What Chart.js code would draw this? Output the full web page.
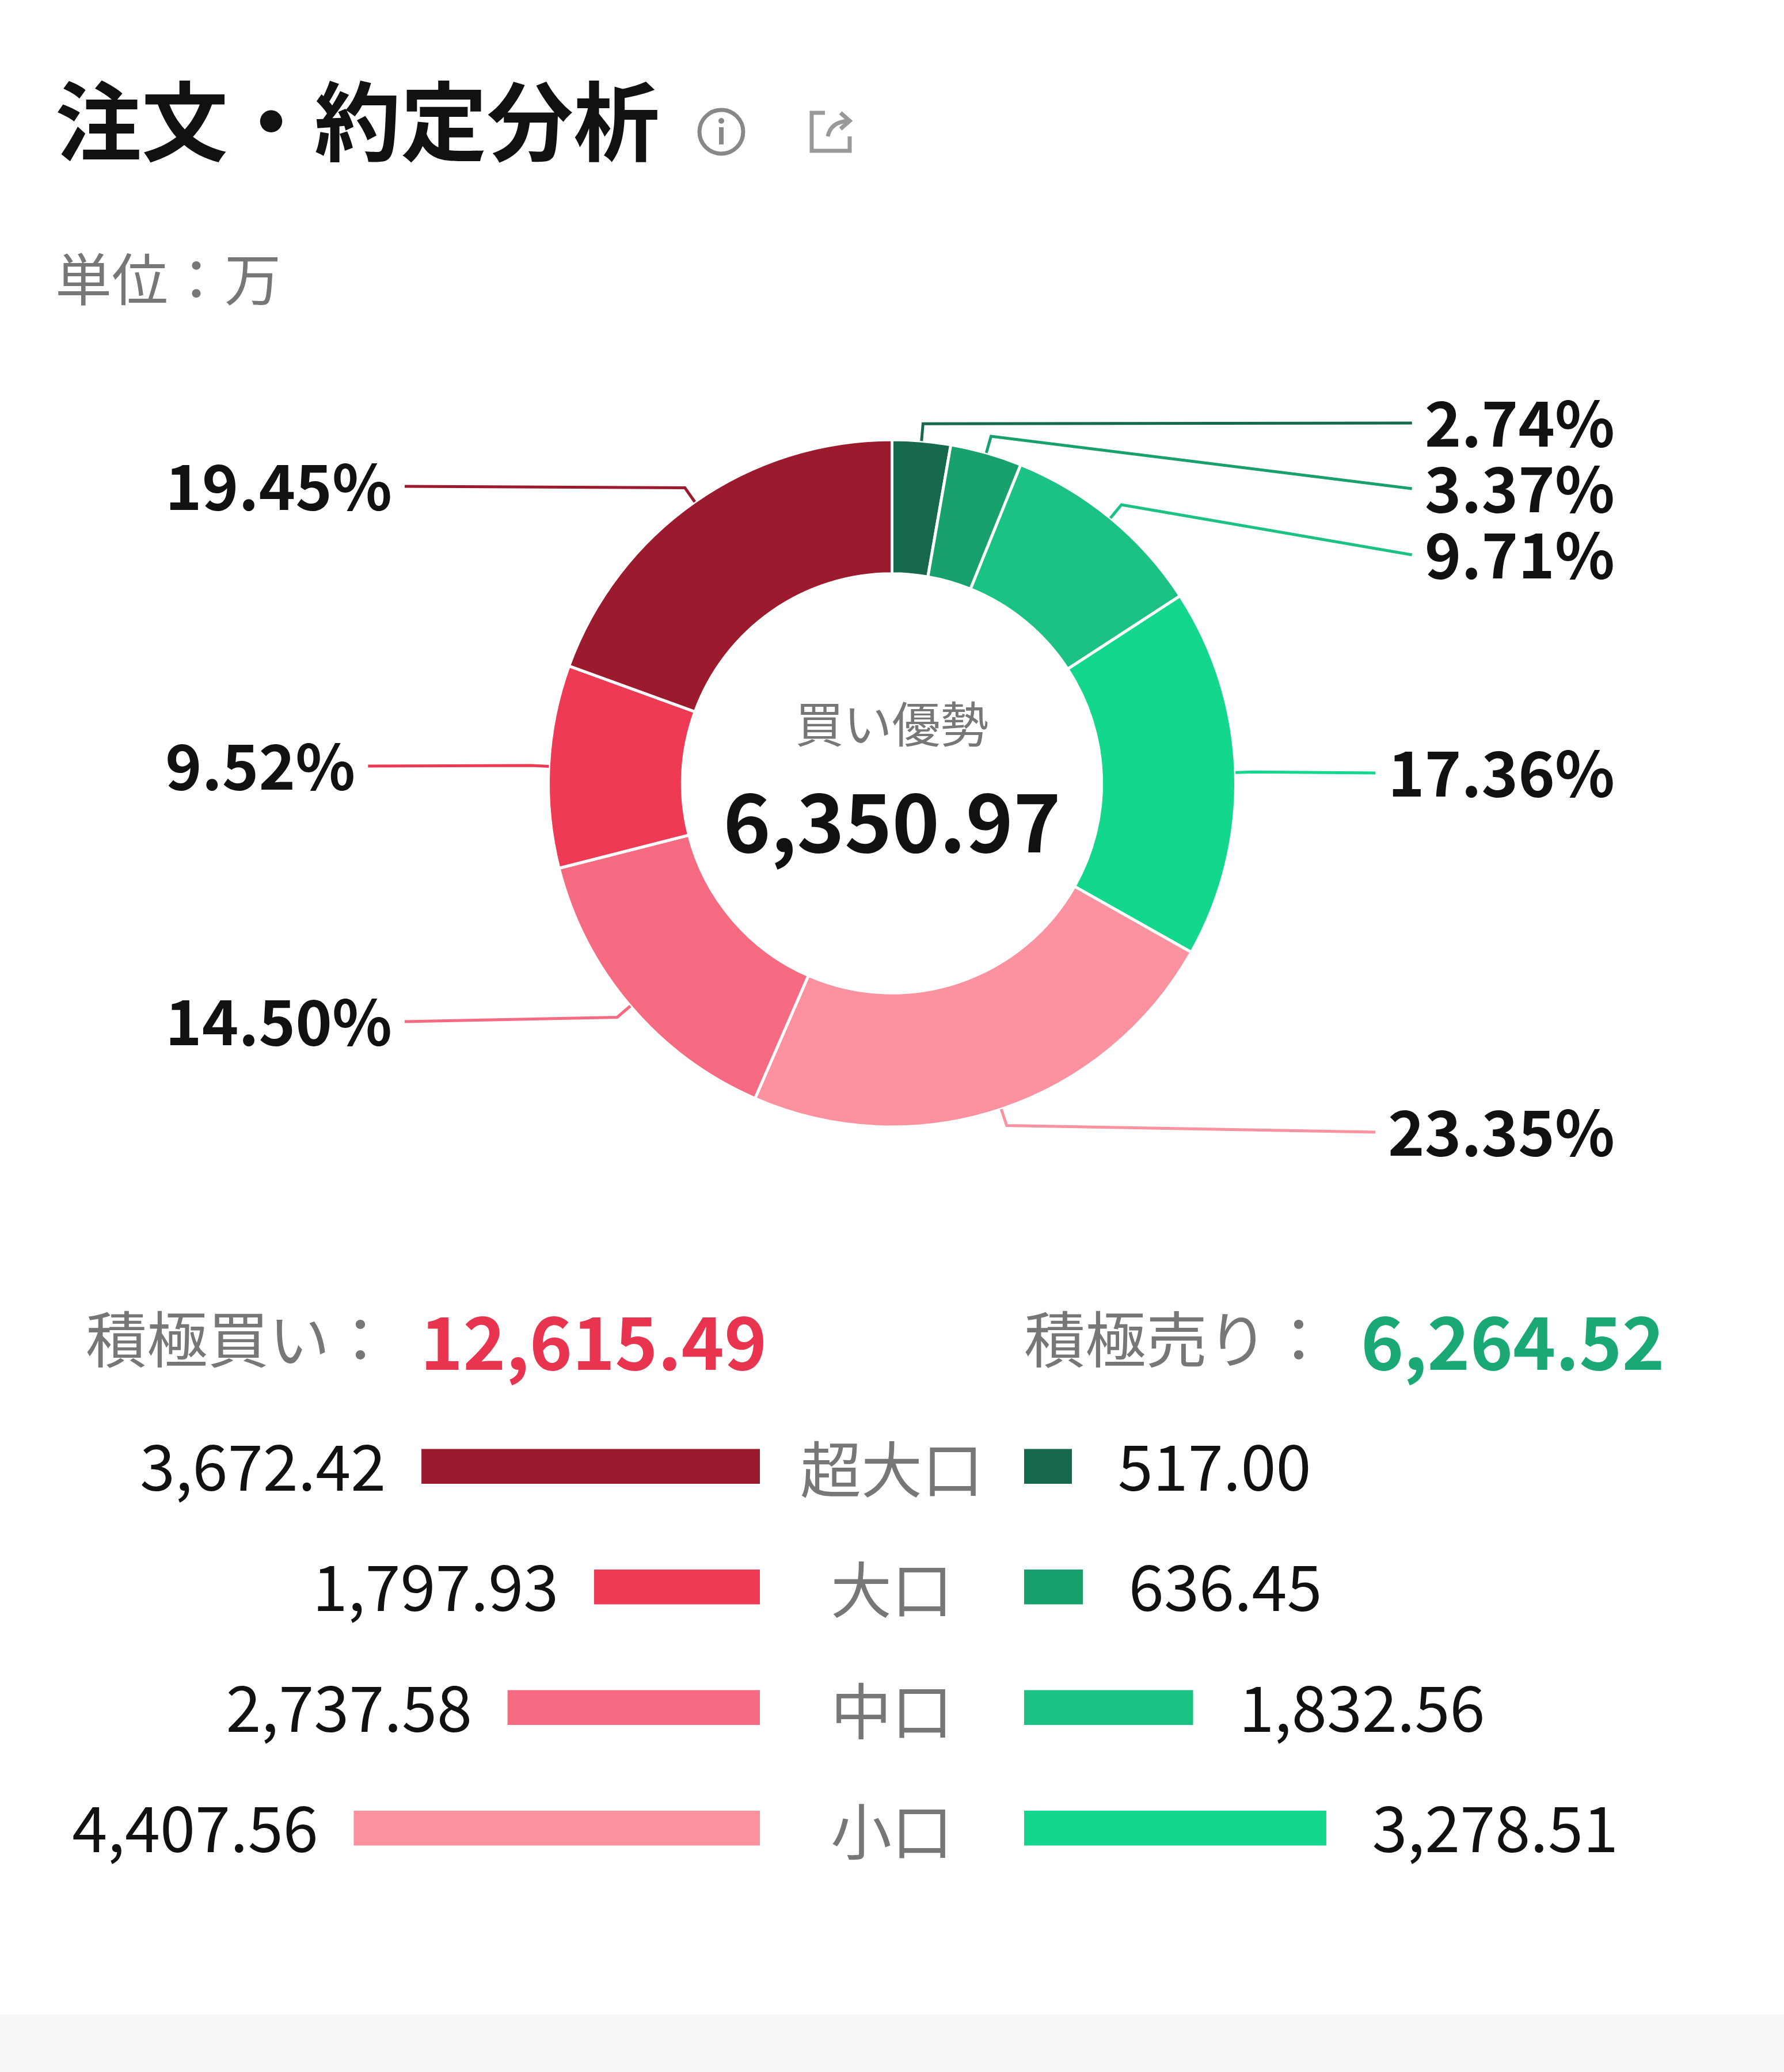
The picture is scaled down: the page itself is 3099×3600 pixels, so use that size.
<!DOCTYPE html>
<html><head><meta charset="utf-8">
<script src="https://cdn.jsdelivr.net/npm/chart.js@4"></script>
<style>
body{margin:0;width:3099px;height:3600px;background:#fff;position:relative;overflow:hidden;font-family:"Noto Sans CJK JP","Noto Sans",sans-serif;}
.abs{position:absolute;white-space:nowrap;}
canvas{position:absolute;}
</style></head><body>
<script>
const sliceLabels=["超大口 売","大口 売","中口 売","小口 売","小口 買","中口 買","大口 買","超大口 買"];
const sliceValues=[517.00,636.45,1832.56,3278.51,4407.56,2737.58,1797.93,3672.42];
const slicePct=["2.74%","3.37%","9.71%","17.36%","23.35%","14.50%","9.52%","19.45%"];
const sliceColors=["#16694c","#18a06d","#1cc184","#13d78d","#fc929f","#f66b81","#ef3a56","#9c1a2e"];
const categories=["超大口","大口","中口","小口"];
const buyValues=[3672.42,1797.93,2737.58,4407.56];
const sellValues=[517.00,636.45,1832.56,3278.51];
const buyColors=["#9c1a2e","#ef3a56","#f66b81","#fc929f"];
const sellColors=["#16694c","#18a06d","#1cc184","#13d78d"];
const totalBuy="12,615.49", totalSell="6,264.52", netFlow="6,350.97";
</script>

<div class="abs" style="left:96px;top:128px;font-size:150px;font-weight:700;color:#111;line-height:1">注文・約定分析</div>
<svg class="abs" style="left:1208px;top:184px" width="90" height="90" viewBox="0 0 90 90"><circle cx="45" cy="45" r="38" fill="none" stroke="#888" stroke-width="7"/><circle cx="45" cy="26" r="5" fill="#888"/><rect x="41" y="37" width="8" height="30" fill="#888"/></svg>
<svg class="abs" style="left:1398px;top:182px" width="90" height="90" viewBox="0 0 90 90"><path d="M35 14 H12 V80 H78 V55" fill="none" stroke="#999" stroke-width="7"/><path d="M40 55 Q45 30 75 28 M62 14 L78 28 L62 42" fill="none" stroke="#999" stroke-width="7"/></svg>
<div class="abs" style="left:96px;top:430px;font-size:98px;color:#777;line-height:1">単位：万</div>

<canvas id="donut" width="3099" height="1522" style="left:0;top:600px"></canvas>

<div class="abs" style="left:149px;top:2258px;font-size:106px;color:#777;line-height:1.2">積極買い：</div>
<div class="abs" style="left:730px;top:2250px;font-size:126px;color:#e8344e;font-weight:700;line-height:1.2">12,615.49</div>
<div class="abs" style="left:1779px;top:2258px;font-size:106px;color:#777;line-height:1.2">積極売り：</div>
<div class="abs" style="left:2364px;top:2250px;font-size:126px;color:#1aa874;font-weight:700;line-height:1.2">6,264.52</div>

<canvas id="left" width="1300" height="838" style="left:20px;top:2443px"></canvas>
<canvas id="right" width="1300" height="838" style="left:1779px;top:2443px"></canvas>
<div id="cats"></div>
<div class="abs" style="left:0;top:3500px;width:3099px;height:100px;background:#f6f6f6"></div>

<script>
Chart.defaults.font.family='"Noto Sans CJK JP","Noto Sans",sans-serif';
const leaderY=[735,849,964,1343,1967,1775,1331,845].map(v=>v-600);
const labelPlugin={id:'lbl',afterDraw(c){
  const ctx=c.ctx;const meta=c.getDatasetMeta(0);
  ctx.save();ctx.font='bold 108px "Noto Sans CJK JP"';ctx.textBaseline='middle';
  meta.data.forEach((arc,i)=>{
    const a=(arc.startAngle+arc.endAngle)/2;const r=arc.outerRadius;
    const sx=arc.x+Math.cos(a)*r, sy=arc.y+Math.sin(a)*r;
    const ex=arc.x+Math.cos(a)*(r+30), ey=arc.y+Math.sin(a)*(r+30);
    const right=Math.cos(a)>=0;const ly=leaderY[i];
    const txt=slicePct[i];const w=ctx.measureText(txt).width;
    const lx=right?2805-w-22:287+w+22;
    ctx.strokeStyle=sliceColors[i];ctx.lineWidth=5;
    ctx.beginPath();ctx.moveTo(sx,sy);ctx.lineTo(ex,ey);
    ctx.lineTo(lx,ly);ctx.stroke();
    ctx.fillStyle='#111';ctx.textAlign=right?'right':'left';
    ctx.fillText(txt,right?2805:287,ly);
  });
  const cx=meta.data[0].x;
  ctx.textAlign='center';ctx.fillStyle='#777';ctx.font='84px "Noto Sans CJK JP"';
  ctx.fillText('買い優勢',cx,1258-600);
  ctx.fillStyle='#111';ctx.font='bold 140px "Noto Sans CJK JP"';
  ctx.fillText(netFlow,cx,1428-600);
  ctx.restore();
}};
new Chart(document.getElementById('donut'),{type:'doughnut',
 data:{labels:sliceLabels,datasets:[{data:sliceValues,backgroundColor:sliceColors,borderColor:'#fff',borderWidth:5}]},
 options:{responsive:false,devicePixelRatio:1,animation:false,radius:597,cutout:'61%',
  layout:{padding:0},plugins:{legend:{display:false},tooltip:{enabled:false}}},
 plugins:[labelPlugin]});

function bars(id,vals,cols,isLeft){
  const numPlugin={id:'num',afterDraw(c){
    const ctx=c.ctx;const m=c.getDatasetMeta(0);ctx.save();
    ctx.font='110px "Noto Sans CJK JP"';ctx.fillStyle='#111';ctx.textBaseline='middle';
    m.data.forEach((b,i)=>{
      const t=vals[i].toLocaleString('en-US',{minimumFractionDigits:2});
      if(isLeft){ctx.textAlign='right';ctx.fillText(t,b.x-62,b.y);}
      else{ctx.textAlign='left';ctx.fillText(t,b.x+80,b.y);}
    });ctx.restore();}};
  new Chart(document.getElementById(id),{type:'bar',
   data:{labels:categories,datasets:[{data:vals,backgroundColor:cols,barThickness:60}]},
   options:{indexAxis:'y',responsive:false,devicePixelRatio:1,animation:false,layout:{padding:0},
    scales:{x:{display:false,min:0,max:8125,reverse:isLeft},y:{display:false}},
    plugins:{legend:{display:false},tooltip:{enabled:false}}},plugins:[numPlugin]});
}
bars('left',buyValues,buyColors,true);
bars('right',sellValues,sellColors,false);
const ys=[2548,2757,2968,3177];
document.getElementById('cats').innerHTML=categories.map((c,i)=>
 `<div class="abs" style="left:1349px;width:400px;text-align:center;top:${ys[i]-66}px;font-size:106px;color:#777;line-height:1.24">${c}</div>`).join('');
</script>
</body></html>
